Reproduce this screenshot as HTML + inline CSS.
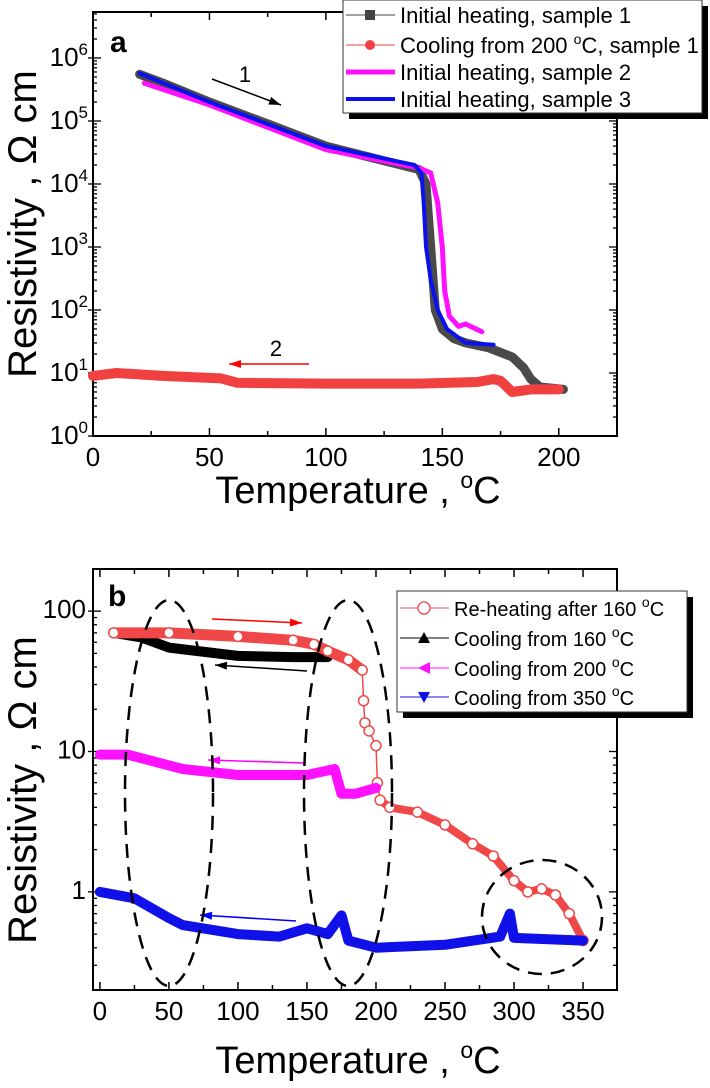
<!DOCTYPE html>
<html><head><meta charset="utf-8"><style>
body{margin:0;background:#fff;}
svg{display:block;font-family:"Liberation Sans",Arial,sans-serif;}
</style></head><body>
<svg id="c" width="710" height="1088" viewBox="0 0 710 1088"></svg>
<script>
// ---- Panel a data ----
const aS1T=[20,30,50,75,100,120,140,143,145,147,150,155,160,170,180,185,188,192,202];
const aS1V=[5.5e5,4e5,2e5,9e4,4e4,2.6e4,1.7e4,1e4,1e3,1e2,5e1,3.5e1,3e1,2.5e1,1.8e1,1.2e1,8,6,5.5];
const aCoolT=[0,10,30,55,62,100,140,165,172,175,180,188,195,200];
const aCoolV=[9,10,9,8.2,7,6.8,6.8,7.2,8,7.5,5,5.5,5.5,5.5];
const aS2T=[22,50,100,140,145,148,150,151,153,157,160,167];
const aS2V=[4e5,1.8e5,3.5e4,1.8e4,1.5e4,5e3,1e3,2e2,8e1,5.5e1,6e1,4.5e1];
const aS3T=[20,50,100,138,141,142,143,145,148,152,160,172];
const aS3V=[5.7e5,2e5,4e4,2e4,1.5e4,5e3,1e3,3e2,1e2,5e1,3e1,2.8e1];
const aXTicks=[0,50,100,150,200];
const aYTicks=[0,1,2,3,4,5,6];
// ---- Panel b data ----
const bReT=[10,50,100,140,155,165,180,190,191,192,195,200,201,203,210,230,250,270,285,300,310,320,330,340,350];
const bReV=[70,70,66,62,58,52,45,38,23,16,14,11,6,4.5,4,3.7,3,2.2,1.8,1.2,1.0,1.05,0.95,0.7,0.45];
const bC160T=[10,30,50,100,140,165];
const bC160V=[70,65,55,48,47,47];
const bC200T=[0,20,60,100,150,170,175,185,200];
const bC200V=[9.5,9.5,7.5,6.8,6.8,7.5,5,5,5.5];
const bC350T=[0,25,50,60,100,130,150,165,175,180,200,250,290,297,300,350];
const bC350V=[1,0.9,0.65,0.58,0.5,0.48,0.55,0.5,0.68,0.45,0.4,0.42,0.48,0.7,0.47,0.45];
const bXTicks=[0,50,100,150,200,250,300,350];
const bYTicks=[1,10,100];

const svg=document.getElementById('c');
const NS='http://www.w3.org/2000/svg';
function mk(tag,attrs,parent){const e=document.createElementNS(NS,tag);for(const k in attrs)e.setAttribute(k,attrs[k]);(parent||svg).appendChild(e);return e;}

const ax={x0:93,x1:617,y0:12,y1:436,tmin:0,tmax:225,lmin:0,lmax:6.73};
const bx={x0:93,x1:617,y0:569,y1:990,tmin:-5,tmax:374.6,lmin:Math.log10(0.2),lmax:2.3};
function X(a,t){return a.x0+(t-a.tmin)/(a.tmax-a.tmin)*(a.x1-a.x0);}
function Y(a,v){return a.y1-(Math.log10(v)-a.lmin)/(a.lmax-a.lmin)*(a.y1-a.y0);}
function pts(a,T,V){return T.map((t,i)=>X(a,t).toFixed(1)+','+Y(a,V[i]).toFixed(1)).join(' ');}

function frame(a,name,xt,xminor){
  const g=mk('g',{});
  
  
  mk('rect',{x:a.x0,y:a.y0,width:a.x1-a.x0,height:a.y1-a.y0,fill:'none',stroke:'#000','stroke-width':2},g);
  for(let t=Math.ceil(a.tmin/xminor)*xminor;t<=a.tmax;t+=xminor){
    const x=X(a,t);const major=xt.includes(t);const L=major?8:5;
    mk('line',{x1:x,x2:x,y1:a.y1,y2:a.y1-L,stroke:'#000','stroke-width':1.5},g);
    mk('line',{x1:x,x2:x,y1:a.y0,y2:a.y0+L,stroke:'#000','stroke-width':1.5},g);
  }
  xt.forEach(t=>{const tx=mk('text',{x:X(a,t),y:a.y1+30,'font-size':26,'text-anchor':'middle',fill:'#000'},g);tx.textContent=t;
    });
  for(let d=Math.floor(a.lmin);d<=Math.ceil(a.lmax);d++){
    for(let m=1;m<10;m++){const v=m*Math.pow(10,d);const lv=Math.log10(v);if(lv<a.lmin-1e-6||lv>a.lmax)continue;
      const y=Y(a,v);const L=m==1?8:4;
      mk('line',{x1:a.x0-(m==1?5:0),x2:a.x0+L,y1:y,y2:y,stroke:'#000','stroke-width':1.3},g);
      mk('line',{x1:a.x1,x2:a.x1-L,y1:y,y2:y,stroke:'#000','stroke-width':1.3},g);}
  }
  return g;
}
frame(ax,'panel-a',aXTicks,25);
frame(bx,'panel-b',bXTicks,25);
aYTicks.forEach(d=>{const y=Y(ax,Math.pow(10,d));
  const t=mk('text',{x:88,y:y+8,'font-size':26,'text-anchor':'end',fill:'#000'});
  
  t.innerHTML='10<tspan dy="-11" font-size="17">'+d+'</tspan>';});
bYTicks.forEach(v=>{const y=Y(bx,v);
  const t=mk('text',{x:86,y:y+7,'font-size':26,'text-anchor':'end',fill:'#000'});
  
  t.textContent=v;});

function series(a,T,V,color,w,name){
  const p=mk('polyline',{points:pts(a,T,V),fill:'none',stroke:color,'stroke-width':w,'stroke-linejoin':'round','stroke-linecap':'round'});
  
  
  return p;
}
series(ax,aS1T,aS1V,'#4a4a4a',9,'series-initial-heating-sample1');
series(ax,aCoolT,aCoolV,'#f04040',10,'series-cooling-200-sample1');
series(ax,aS2T,aS2V,'#ff10ff',5,'series-initial-heating-sample2');
series(ax,aS3T,aS3V,'#0a10ee',4,'series-initial-heating-sample3');

series(bx,bC160T,bC160V,'#000',10,'series-cooling-160');
series(bx,bReT,bReV,'#f04848',1.5,'series-reheating-160-line');
series(bx,bReT.slice(0,8),bReV.slice(0,8),'#f04848',11,'series-reheating-160-band');
series(bx,bReT.slice(13),bReV.slice(13),'#f04848',8,'series-reheating-160-band2');
bReT.forEach((t,i)=>{const c=mk('circle',{cx:X(bx,t),cy:Y(bx,bReV[i]),r:5,fill:'#fff',stroke:'#f04848','stroke-width':1.5});
  });
series(bx,bC200T,bC200V,'#ff10ff',10,'series-cooling-200');
series(bx,bC350T,bC350V,'#1010e8',10,'series-cooling-350');

function txt(x,y,s,size,attrs,name){const t=mk('text',Object.assign({x:x,y:y,'font-size':size,fill:'#000'},attrs||{}));t.innerHTML=s;
  return t;}
txt(110,52,'a',30,{'font-weight':'bold'},'panel-a-label');
txt(108,606,'b',30,{'font-weight':'bold'},'panel-b-label');
txt(22,224,'Resistivity , Ω cm',40,{transform:'rotate(-90 22 224)','text-anchor':'middle',dy:14},'panel-a-y-axis-title');
txt(22,790,'Resistivity , Ω cm',40,{transform:'rotate(-90 22 790)','text-anchor':'middle',dy:14},'panel-b-y-axis-title');
txt(358,503,'Temperature , <tspan dy="-15" font-size="23">o</tspan><tspan dy="15">C</tspan>',38,{'text-anchor':'middle'},'panel-a-x-axis-title');
txt(358,1073,'Temperature , <tspan dy="-15" font-size="23">o</tspan><tspan dy="15">C</tspan>',38,{'text-anchor':'middle'},'panel-b-x-axis-title');

function arrow(x1,y1,x2,y2,c,name){const g=mk('g',{});
  mk('line',{x1:x1,y1:y1,x2:x2,y2:y2,stroke:c,'stroke-width':1.5},g);
  const a=Math.atan2(y2-y1,x2-x1),L=12,W=4;
  const p=[[x2,y2],[x2-L*Math.cos(a)+W*Math.sin(a),y2-L*Math.sin(a)-W*Math.cos(a)],[x2-L*Math.cos(a)-W*Math.sin(a),y2-L*Math.sin(a)+W*Math.cos(a)]];
  mk('polygon',{points:p.map(q=>q.join(',')).join(' '),fill:c},g);}
arrow(212,79,281,105,'#000','arrow-1');
txt(245,82,'1',22,{'text-anchor':'middle'},'arrow-1-label');
arrow(309,364,229,364,'#f00','arrow-2');
txt(276,356,'2',22,{'text-anchor':'middle'},'arrow-2-label');
arrow(212,619,302,623,'#f00','arrow-reheat');
arrow(307,671,215,665,'#000','arrow-cool160');
arrow(304,763,208,760,'#f0f','arrow-cool200');
arrow(296,921,200,915,'#00f','arrow-cool350');

[[169,793,44,193],[348,793,44,193],[542,917,60,57]].forEach((e,i)=>{const el=mk('ellipse',{cx:e[0],cy:e[1],rx:e[2],ry:e[3],fill:'none',stroke:'#000','stroke-width':2.5,'stroke-dasharray':'14 9'});
  });

function legend(x,y,w,h,rows,name,size){
  const g=mk('g',{});
  mk('rect',{x:x+6,y:y+6,width:w,height:h,fill:'#000'},g);
  mk('rect',{x:x,y:y,width:w,height:h,fill:'#fff',stroke:'#333','stroke-width':1},g);
  rows.forEach((r,i)=>{const ry=r.y;
    const e=mk('g',{},g);
    mk('line',{x1:x+3,x2:x+52,y1:ry,y2:ry,stroke:r.c,'stroke-width':r.w},e);
    if(r.m=='sq')mk('rect',{x:x+22,y:ry-5,width:10,height:10,fill:r.c},e);
    if(r.m=='dot')mk('circle',{cx:x+27,cy:ry,r:5,fill:r.c},e);
    if(r.m=='oc')mk('circle',{cx:x+27,cy:ry,r:6,fill:'#fff',stroke:r.c,'stroke-width':1.3},e);
    if(r.m=='up')mk('polygon',{points:`${x+27},${ry-6} ${x+33},${ry+5} ${x+21},${ry+5}`,fill:r.c},e);
    if(r.m=='left')mk('polygon',{points:`${x+21},${ry} ${x+33},${ry-6} ${x+33},${ry+6}`,fill:r.c},e);
    if(r.m=='down')mk('polygon',{points:`${x+27},${ry+6} ${x+33},${ry-5} ${x+21},${ry-5}`,fill:r.c},e);
    const t=mk('text',{x:x+57,y:ry+8,'font-size':size,fill:'#000'},e);t.innerHTML=r.t;});
}
const sup='<tspan dy="-9" font-size="14">o</tspan><tspan dy="9">C</tspan>';
legend(343,0,359,113,[
  {y:15,c:'#444',w:1,m:'sq',t:'Initial heating, sample 1'},
  {y:45,c:'#f04040',w:1,m:'dot',t:'Cooling from 200 '+sup+', sample 1'},
  {y:72,c:'#ff10ff',w:5,t:'Initial heating, sample 2'},
  {y:99,c:'#0a10ee',w:4,t:'Initial heating, sample 3'}],'legend-panel-a',22);
legend(397,591,290,121,[
  {y:608,c:'#f04848',w:1,m:'oc',t:'Re-heating after 160 '+sup},
  {y:638,c:'#000',w:1,m:'up',t:'Cooling from 160 '+sup},
  {y:668,c:'#ff10ff',w:1,m:'left',t:'Cooling from 200 '+sup},
  {y:697,c:'#1010e8',w:1,m:'down',t:'Cooling from 350 '+sup}],'legend-panel-b',20);
</script>
</body></html>
